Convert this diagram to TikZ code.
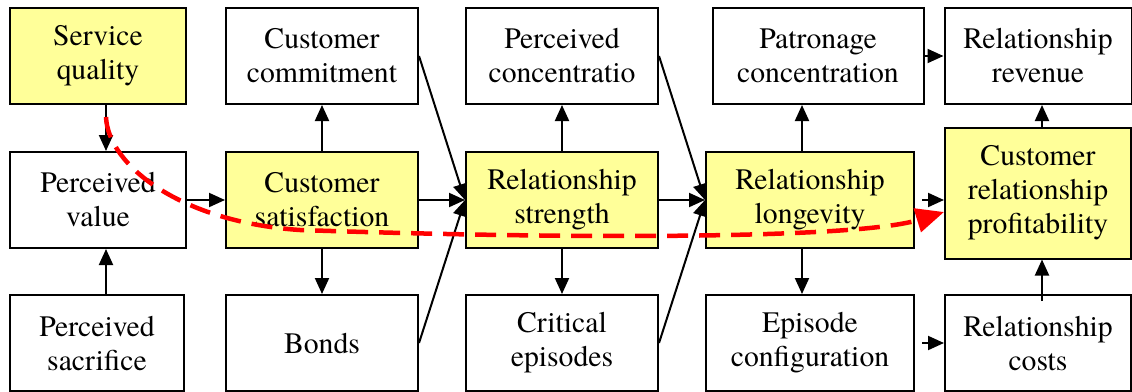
\documentclass[tikz,border=0pt]{standalone}
\usepackage{fontspec}
\setmainfont{TeX Gyre Termes}
\usetikzlibrary{arrows.meta}
\definecolor{boxyellow}{RGB}{255,255,153}
\begin{document}
\begin{tikzpicture}[
        x=1pt, y=-1pt,
        box/.style={draw, line width=2pt, minimum height=96pt, inner sep=0pt, align=center, font=\fontsize{29.7}{34}\selectfont},
        hot/.style={box, fill=boxyellow},
        link/.style={line width=2pt, -{Stealth[inset=0pt, length=16pt, width=14pt]}},
        trend/.style={red, line width=4.5pt, dash pattern=on 21pt off 11pt, -{Stealth[inset=0pt, length=28pt, width=24pt]}}
    ]
        \useasboundingbox (0,0) rectangle (1132,391);

        % Left part of the chain
        \node[hot, minimum width=176pt] (quality) at (98,56) {Service\\quality};
        \node[box, minimum width=176pt] (value) at (98,200) {Perceived\\value};
        \node[box, minimum width=174pt] (sacrifice) at (97,343) {Perceived\\sacrifice};
        \node[box, minimum width=192pt] (commitment) at (322,56) {Customer\\commitment};
        \node[hot, minimum width=192pt] (satisfaction) at (322,200) {Customer\\satisfaction};
        \node[box, minimum width=192pt] (bonds) at (322,343) {Bonds};
        \node[box, minimum width=192pt] (perconc) at (562,56) {Perceived\\concentratio};
        \node[hot, minimum width=192pt] (strength) at (562,200) {Relationship\\strength};
        \node[box, minimum width=192pt] (critical) at (562,343) {Critical\\episodes};

        % Right part of the chain
        \node[box, minimum width=211pt] (patronage) at (818,56) {Patronage\\concentration};
        \node[hot, minimum width=208pt] (longevity) at (810,200) {Relationship\\longevity};
        \node[box, minimum width=208pt] (episode) at (810,343) {Episode\\configuration};
        \node[box, minimum width=187pt] (revenue) at (1038,56) {Relationship\\revenue};
        \node[hot, minimum width=186pt, minimum height=131pt] (profit) at (1038,193) {Customer\\relationship\\profitability};
        \node[box, minimum width=186pt] (costs) at (1038,343) {Relationship\\costs};

        % Arrows
        \draw[link] ([xshift=8pt]quality.south) -- ([xshift=8pt]value.north);
        \draw[link] ([xshift=9pt]sacrifice.north) -- ([xshift=8pt]value.south);
        \draw[link] (value) -- (satisfaction);
        \draw[link] (satisfaction) -- (commitment);
        \draw[link] (satisfaction) -- (bonds);
        \draw[link] (commitment.east) -- (strength.west);
        \draw[link] (satisfaction) -- (strength);
        \draw[link] (bonds.east) -- (strength.west);
        \draw[link] (strength) -- (perconc);
        \draw[link] (strength) -- (critical);
        \draw[link] (perconc.east) -- (longevity.west);
        \draw[link] (strength) -- (longevity);
        \draw[link] (critical.east) -- (longevity.west);
        \draw[link] ([xshift=-8pt]longevity.north) -- ([xshift=-8pt]longevity.north |- patronage.south);
        \draw[link] ([xshift=-8pt]longevity.south) -- ([xshift=-8pt]longevity.south |- episode.north);
        \draw[link, shorten <=7pt] (longevity) -- (profit.west |- longevity.east);
        \draw[link] (patronage) -- (revenue);
        \draw[link, shorten <=7pt] (episode) -- (costs);
        \draw[link] ([xshift=4pt]profit.north) -- ([xshift=4pt]revenue.south);
        \draw[link] ([xshift=4pt, yshift=-7pt]costs.north) -- ([xshift=4pt]profit.south);

        % Red dashed path
        \coordinate (start) at (106,117);
        \draw[trend] (start) .. controls (108,165) and (180,222) .. (300,230)
            .. controls (600,240) and (860,238) .. ([yshift=-19pt]profit.west);
\end{tikzpicture}
\end{document}
